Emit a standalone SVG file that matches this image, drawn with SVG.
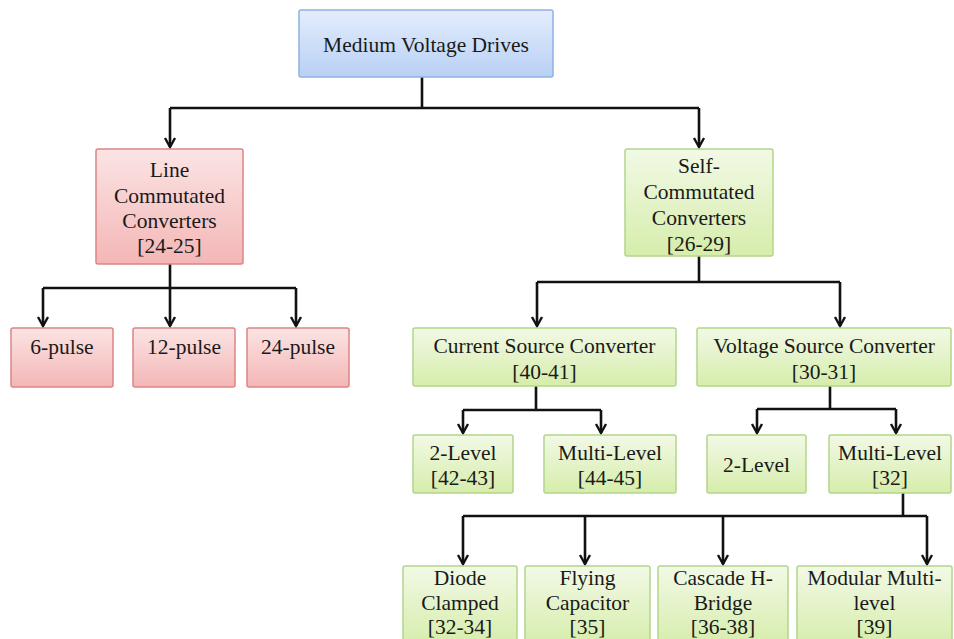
<svg xmlns="http://www.w3.org/2000/svg" width="954" height="639" viewBox="0 0 954 639">
  <defs>
    <linearGradient id="gBlue" x1="0" y1="0" x2="0" y2="1">
      <stop offset="0" stop-color="#e4edfc"/>
      <stop offset="1" stop-color="#b8d0f5"/>
    </linearGradient>
    <linearGradient id="gRed" x1="0" y1="0" x2="0" y2="1">
      <stop offset="0" stop-color="#fbe4e4"/>
      <stop offset="1" stop-color="#f4b6b6"/>
    </linearGradient>
    <linearGradient id="gGreen" x1="0" y1="0" x2="0" y2="1">
      <stop offset="0" stop-color="#f2f9e6"/>
      <stop offset="1" stop-color="#d6edab"/>
    </linearGradient>
    <marker id="arrow" viewBox="-2 -7 14 14" refX="9" refY="0" markerWidth="14" markerHeight="14" markerUnits="userSpaceOnUse" orient="auto">
      <path d="M0,-5 L9,0 L0,5" fill="none" stroke="#111" stroke-width="2.4" stroke-linejoin="miter"/>
    </marker>
  </defs>
  <style>
    .box { stroke-width: 1.5; }
    .blue { fill: url(#gBlue); stroke: #8fb1e4; }
    .red { fill: url(#gRed); stroke: #db8585; }
    .green { fill: url(#gGreen); stroke: #b3d68a; }
    text { font-family: "Liberation Serif", "Times New Roman", serif; font-size: 21.5px; fill: #1a1a1a; text-anchor: middle; }
    .wire { fill: none; stroke: #111; stroke-width: 2.6; }
    .arr { fill: none; stroke: #111; stroke-width: 2.6; marker-end: url(#arrow); }
  </style>

  <!-- connectors -->
  <g id="connectors">
    <path class="wire" d="M422,77 V108 M170,108 H699"/>
    <path class="arr" d="M170,108 V147"/>
    <path class="arr" d="M699,108 V147"/>

    <path class="wire" d="M170,264 V288 M43,288 H296"/>
    <path class="arr" d="M43,288 V326"/>
    <path class="arr" d="M170,288 V326"/>
    <path class="arr" d="M296,288 V326"/>

    <path class="wire" d="M699,256 V282 M537,282 H840"/>
    <path class="arr" d="M537,282 V326"/>
    <path class="arr" d="M840,282 V326"/>

    <path class="wire" d="M536,386 V410 M463,410 H601"/>
    <path class="arr" d="M463,410 V433"/>
    <path class="arr" d="M601,410 V433"/>

    <path class="wire" d="M830,386 V409 M757,409 H896"/>
    <path class="arr" d="M757,409 V433"/>
    <path class="arr" d="M896,409 V433"/>

    <path class="wire" d="M903,493 V516 M463,516 H927"/>
    <path class="arr" d="M463,516 V564"/>
    <path class="arr" d="M585,516 V564"/>
    <path class="arr" d="M723,516 V564"/>
    <path class="arr" d="M927,516 V564"/>
  </g>

  <!-- root -->
  <g id="mvd">
    <rect class="box blue" x="299" y="10" width="254" height="67" rx="2"/>
    <text x="426" y="52">Medium Voltage Drives</text>
  </g>

  <!-- line commutated branch -->
  <g id="lcc">
    <rect class="box red" x="96" y="149" width="147" height="115" rx="2"/>
    <text x="169.5" y="177">Line</text>
    <text x="169.5" y="203">Commutated</text>
    <text x="169.5" y="228">Converters</text>
    <text x="169.5" y="253">[24-25]</text>
  </g>
  <g id="pulse6">
    <rect class="box red" x="11" y="328" width="102" height="59" rx="2"/>
    <text x="62" y="354">6-pulse</text>
  </g>
  <g id="pulse12">
    <rect class="box red" x="133" y="328" width="102" height="59" rx="2"/>
    <text x="184" y="354">12-pulse</text>
  </g>
  <g id="pulse24">
    <rect class="box red" x="247" y="328" width="102" height="59" rx="2"/>
    <text x="298" y="354">24-pulse</text>
  </g>

  <!-- self commutated branch -->
  <g id="scc">
    <rect class="box green" x="625" y="149" width="148" height="107" rx="2"/>
    <text x="699" y="173">Self-</text>
    <text x="699" y="199">Commutated</text>
    <text x="699" y="225">Converters</text>
    <text x="699" y="251">[26-29]</text>
  </g>
  <g id="csc">
    <rect class="box green" x="413" y="328" width="263" height="58" rx="2"/>
    <text x="544.5" y="353">Current Source Converter</text>
    <text x="544.5" y="379">[40-41]</text>
  </g>
  <g id="vsc">
    <rect class="box green" x="697" y="328" width="254" height="58" rx="2"/>
    <text x="824" y="353">Voltage Source Converter</text>
    <text x="824" y="379">[30-31]</text>
  </g>
  <g id="csc-2level">
    <rect class="box green" x="413" y="435" width="100" height="58" rx="2"/>
    <text x="463" y="460">2-Level</text>
    <text x="463" y="485">[42-43]</text>
  </g>
  <g id="csc-multilevel">
    <rect class="box green" x="544" y="435" width="132" height="58" rx="2"/>
    <text x="610" y="460">Multi-Level</text>
    <text x="610" y="485">[44-45]</text>
  </g>
  <g id="vsc-2level">
    <rect class="box green" x="707" y="435" width="99" height="58" rx="2"/>
    <text x="756.5" y="472">2-Level</text>
  </g>
  <g id="vsc-multilevel">
    <rect class="box green" x="829" y="435" width="122" height="58" rx="2"/>
    <text x="890" y="460">Multi-Level</text>
    <text x="890" y="485">[32]</text>
  </g>

  <!-- multilevel topologies -->
  <g id="diode-clamped">
    <rect class="box green" x="403" y="566" width="114" height="80" rx="2"/>
    <text x="460" y="585">Diode</text>
    <text x="460" y="610">Clamped</text>
    <text x="460" y="634">[32-34]</text>
  </g>
  <g id="flying-capacitor">
    <rect class="box green" x="525" y="566" width="125" height="80" rx="2"/>
    <text x="587.5" y="585">Flying</text>
    <text x="587.5" y="610">Capacitor</text>
    <text x="587.5" y="634">[35]</text>
  </g>
  <g id="cascade-h-bridge">
    <rect class="box green" x="658" y="566" width="130" height="80" rx="2"/>
    <text x="723" y="585">Cascade H-</text>
    <text x="723" y="610">Bridge</text>
    <text x="723" y="634">[36-38]</text>
  </g>
  <g id="modular-multilevel">
    <rect class="box green" x="797" y="566" width="155" height="80" rx="2"/>
    <text x="874.5" y="585">Modular Multi-</text>
    <text x="874.5" y="610">level</text>
    <text x="874.5" y="634">[39]</text>
  </g>
</svg>
